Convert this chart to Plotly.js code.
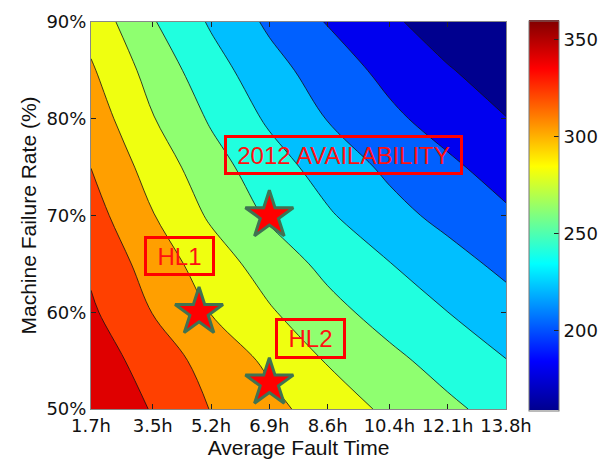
<!DOCTYPE html>
<html>
<head>
<meta charset="utf-8">
<script src="https://cdn.plot.ly/plotly-3.0.1.min.js"></script>
<style>html,body{margin:0;padding:0;background:#fff;}#chart{width:600px;height:462px;}</style>
</head>
<body>
<div id="chart"></div>
<script>
// x: average fault time (hours), y: machine failure rate (%)
var faultHours = [1.7, 3.5, 5.2, 6.9, 8.6, 10.4, 12.1, 13.8];
var faultLabels = ['1.7h', '3.5h', '5.2h', '6.9h', '8.6h', '10.4h', '12.1h', '13.8h'];
var failureRate = [50, 55, 60, 65, 70, 75, 80, 85, 90];
var rateTicks = [50, 60, 70, 80, 90];
var rateLabels = ['50%', '60%', '70%', '80%', '90%'];

// value rows, one per failure rate
var rate50 = [360.0, 338.4, 319.3, 305.6, 291.0, 276.0, 264.1, 252.4];
var rate55 = [351.5, 330.7, 312.8, 296.4, 278.6, 264.9, 252.4, 240.5];
var rate60 = [343.0, 319.5, 299.4, 282.1, 266.3, 252.1, 240.1, 228.2];
var rate65 = [336.4, 311.3, 289.9, 271.0, 254.8, 240.6, 227.8, 215.0];
var rate70 = [328.0, 300.9, 277.1, 257.3, 242.2, 226.7, 214.2, 203.0];
var rate75 = [319.8, 291.8, 267.9, 248.7, 231.8, 216.0, 203.8, 191.6];
var rate80 = [311.2, 281.0, 257.7, 237.0, 219.3, 204.1, 191.7, 180.5];
var rate85 = [302.4, 272.3, 248.2, 227.5, 210.1, 194.5, 181.5, 170.0];
var rate90 = [292.5, 261.6, 237.7, 216.5, 198.8, 183.4, 170.0, 159.0];

// contour levels
var levelStart = 180, levelEnd = 340, levelStep = 20;

// marked scenarios
var starLabels = ['2012 AVAILABILITY', 'HL1', 'HL2'];
var starHours = [6.9, 4.85, 6.9];
var starRates = [70, 60, 52.7];

var zRows = [rate50, rate55, rate60, rate65, rate70, rate75, rate80, rate85, rate90];
var allZ = [].concat.apply([], zRows);
var zMin = Math.min.apply(null, allZ), zMax = Math.max.apply(null, allZ);

// band colours (MATLAB jet sampled at each band's lower level)
var bandColors = ['#00008f', '#0000ef', '#0060ff', '#00bfff', '#20ffdf',
                  '#8fff70', '#efff10', '#ff9f00', '#ff4000', '#df0000'];
var bandScale = bandColors.map(function (c, i) { return [i / (bandColors.length - 1), c]; });
var jetScale = [[0, '#00008f'], [0.125, '#0000ff'], [0.375, '#00ffff'],
                [0.625, '#ffff00'], [0.875, '#ff0000'], [1, '#800000']];

var contour = {
  type: 'contour',
  x: faultHours, y: failureRate, z: zRows,
  autocontour: false,
  contours: {start: levelStart, end: levelEnd, size: levelStep, coloring: 'fill', showlines: true},
  line: {color: '#111', width: 0.8, smoothing: 1},
  colorscale: bandScale,
  showscale: false,
  hoverinfo: 'skip'
};

var scaleTrace = {
  type: 'scatter', mode: 'markers',
  x: [faultHours[0], faultHours[0]], y: [failureRate[0], failureRate[0]],
  marker: {
    color: [zMin, zMax], cmin: zMin, cmax: zMax, colorscale: jetScale,
    opacity: 0, size: 1, showscale: true,
    colorbar: {
      x: 1.0554, xanchor: 'left', xpad: 0, ypad: 0,
      y: 0.5, yanchor: 'middle', lenmode: 'pixels', len: 390,
      thickness: 30, thicknessmode: 'pixels',
      outlinewidth: 1, outlinecolor: '#777',
      tickvals: [200, 250, 300, 350], ticks: 'inside', ticklen: 5, tickcolor: '#222',
      tickfont: {family: 'DejaVu Sans', size: 18, color: '#111'}
    }
  },
  hoverinfo: 'skip', showlegend: false
};

var stars = {
  type: 'scatter', mode: 'markers',
  x: starHours, y: starRates,
  marker: {symbol: 'star', size: 36, color: '#ff0000', line: {color: '#3f7352', width: 3}},
  hoverinfo: 'skip', showlegend: false
};

var boxPos = [
  {x: 9.06, y: 76.25, w: 233, h: 34},
  {x: 4.27, y: 65.83, w: 65, h: 34},
  {x: 8.11, y: 57.31, w: 65, h: 35}
];
var annotations = starLabels.map(function (t, i) {
  return {
    xref: 'x', yref: 'y', x: boxPos[i].x, y: boxPos[i].y,
    xanchor: 'center', yanchor: 'middle', showarrow: false,
    text: t, width: boxPos[i].w, height: boxPos[i].h,
    font: {family: 'Liberation Sans, Arial', size: 24, color: '#ff1010'},
    bordercolor: '#ff0000', borderwidth: 3, borderpad: 0, bgcolor: 'rgba(0,0,0,0)'
  };
});

var axisCommon = {
  showgrid: false, zeroline: false, showline: true, linecolor: '#888', linewidth: 1,
  mirror: 'ticks', ticks: 'inside', ticklen: 5, tickcolor: '#222',
  tickfont: {family: 'DejaVu Sans', size: 18, color: '#111'}, automargin: false
};

var layout = {
  width: 600, height: 462,
  margin: {l: 91, r: 94, t: 22, b: 53, autoexpand: false},
  paper_bgcolor: '#fff', plot_bgcolor: '#fff',
  showlegend: false,
  xaxis: Object.assign({}, axisCommon, {
    range: [faultHours[0], faultHours[faultHours.length - 1]],
    tickvals: faultHours, ticktext: faultLabels,
    title: {text: 'Average Fault Time', font: {family: 'Liberation Sans, Arial', size: 21, color: '#111'}, standoff: 4}
  }),
  yaxis: Object.assign({}, axisCommon, {
    range: [failureRate[0], failureRate[failureRate.length - 1]],
    tickvals: rateTicks, ticktext: rateLabels,
    title: {text: 'Machine Failure Rate (%)', font: {family: 'Liberation Sans, Arial', size: 21, color: '#111'}, standoff: 4}
  }),
  annotations: annotations
};

Plotly.newPlot('chart', [contour, scaleTrace, stars], layout, {staticPlot: true, displayModeBar: false});
</script>
</body>
</html>
